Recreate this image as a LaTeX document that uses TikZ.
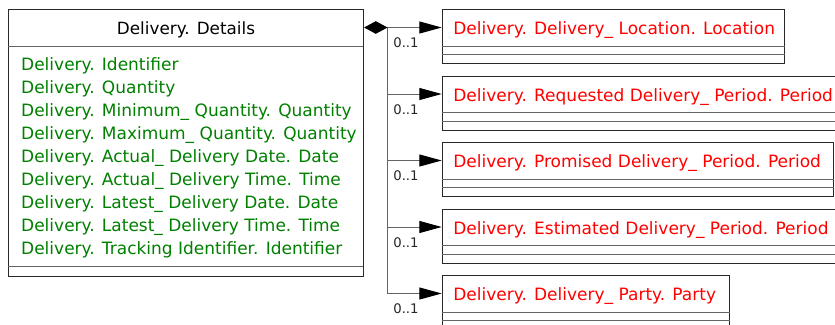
\documentclass[tikz,border=0pt]{standalone}
\usepackage{fontspec}
\setmainfont{DejaVu Sans}
\usetikzlibrary{arrows.meta,calc}
\definecolor{attrgreen}{RGB}{0,128,0}
\definecolor{clsred}{RGB}{255,0,0}
\definecolor{linegray}{RGB}{100,100,100}
\definecolor{boxborder}{RGB}{40,40,40}
\tikzset{
  classbox/.style={draw=boxborder, line width=1.1pt, anchor=north west, inner sep=0pt, fill=white},
  sepline/.style={draw=linegray, line width=1pt},
  headtxt/.style={font=\fontsize{16.8}{20}\selectfont, text=black, inner sep=0pt, anchor=base},
  attrtxt/.style={font=\fontsize{17}{20}\selectfont, text=attrgreen, anchor=base west, inner sep=0pt},
  redtxt/.style={font=\fontsize{17}{20}\selectfont, text=clsred, anchor=base west, inner sep=0pt},
  multtxt/.style={font=\fontsize{13.2}{15}\selectfont, text=black!85, anchor=base west, inner sep=0pt},
  conn/.style={draw=linegray, line width=1pt},
  arr/.style={-{Triangle[length=22.4pt,width=12pt,color=black]}},
}
\begin{document}
\begin{tikzpicture}[x=1pt,y=-1pt]
\clip (0,0) rectangle (835,324);
\fill[white] (0,0) rectangle (835,324);

% main class
\node[classbox, minimum width=355pt, minimum height=267pt] (main) at (8,9) {};
\draw[sepline] (8,46) -- (363,46);
\draw[sepline] (8,266.5) -- (363,266.5);
\node[headtxt] (mainhead) at (186,34.5) {Delivery. Details};
\node[attrtxt] (a1) at (21,70.5) {Delivery. Identifier};
\node[attrtxt] (a2) at (21,93.5) {Delivery. Quantity};
\node[attrtxt] (a3) at (21,116.5) {Delivery. Minimum\_ Quantity. Quantity};
\node[attrtxt] (a4) at (21,139.5) {Delivery. Maximum\_ Quantity. Quantity};
\node[attrtxt] (a5) at (21,162.5) {Delivery. Actual\_ Delivery Date. Date};
\node[attrtxt] (a6) at (21,185.5) {Delivery. Actual\_ Delivery Time. Time};
\node[attrtxt] (a7) at (21,208.5) {Delivery. Latest\_ Delivery Date. Date};
\node[attrtxt] (a8) at (21,231.5) {Delivery. Latest\_ Delivery Time. Time};
\node[attrtxt] (a9) at (21,254.5) {Delivery. Tracking Identifier. Identifier};

% target classes
\foreach \i/\top/\w/\txt in {
  1/9/342.3/{Delivery. Delivery\_ Location. Location},
  2/75.5/404/{Delivery. Requested Delivery\_ Period. Period},
  3/142/391/{Delivery. Promised Delivery\_ Period. Period},
  4/208.5/400/{Delivery. Estimated Delivery\_ Period. Period},
  5/275/287.6/{Delivery. Delivery\_ Party. Party}} {
  \node[classbox, minimum width=\w pt, minimum height=54.3pt] (b\i) at (441.7,\top) {};
  \draw[sepline] ([yshift=-37pt]b\i.north west) -- ([yshift=-37pt]b\i.north east);
  \draw[sepline] ([yshift=-45.5pt]b\i.north west) -- ([yshift=-45.5pt]b\i.north east);
  \node[redtxt] (t\i) at ([xshift=11.5pt,yshift=-25.5pt]b\i.north west) {\txt};
  \coordinate (p\i) at ([yshift=-18.5pt]b\i.north west);
  \node[multtxt] (m\i) at ($(p\i)+(-48.5,20)$) {0..1};
}

% connectors
\coordinate (d0) at (main.east |- p1);
\coordinate (j) at ([xshift=23.7pt]d0);
\draw[conn, {Diamond[length=23.4pt,width=12.6pt,color=black]}-{Triangle[length=22.4pt,width=12pt,color=black]}] (d0) -- (p1);
\draw[conn] (j) -- (j |- p5);
\foreach \i in {2,3,4,5} {
  \draw[conn, arr] (j |- p\i) -- (p\i);
}
\end{tikzpicture}
\end{document}
